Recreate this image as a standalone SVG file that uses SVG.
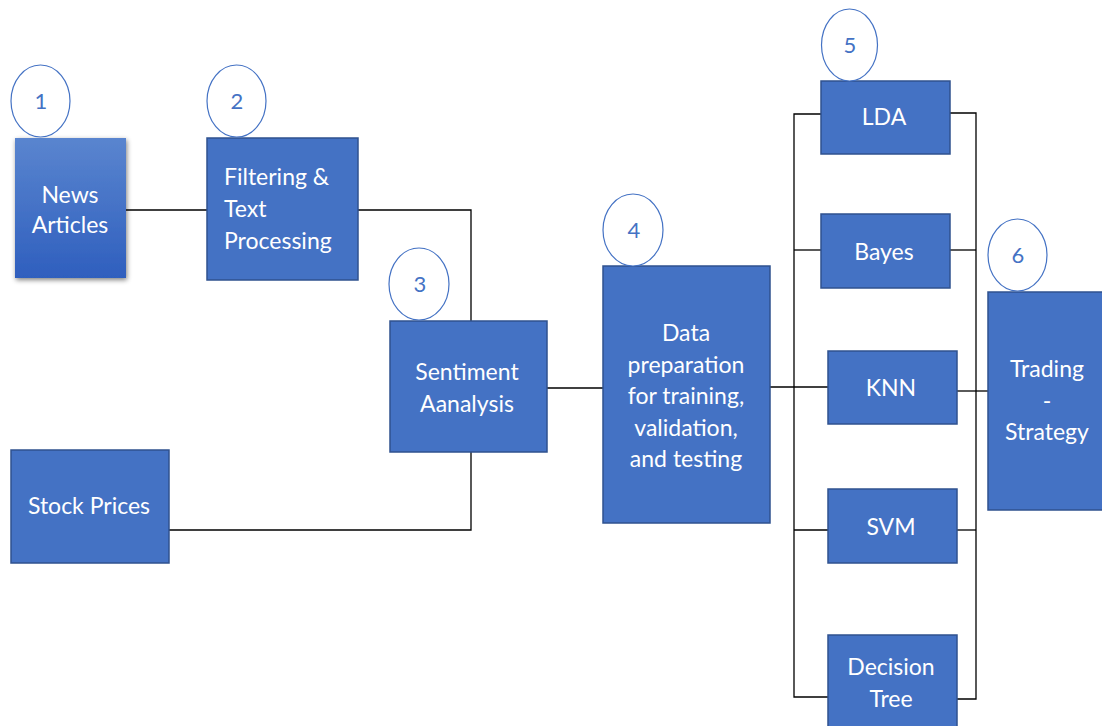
<svg xmlns="http://www.w3.org/2000/svg" width="1102" height="726" viewBox="0 0 1102 726">
<defs>
<style>
.box{fill:#4472C4;stroke:#2F528F;stroke-width:1.5}
.t{font-family:Lato,"Liberation Sans",sans-serif;font-size:23px;fill:#ffffff;text-anchor:middle}
.c{fill:#ffffff;stroke:#4472C4;stroke-width:1.2}
.n{font-family:Lato,"Liberation Sans",sans-serif;font-size:22px;fill:#4472C4;text-anchor:middle}
.ln{fill:none;stroke:#000000;stroke-width:1.3}
</style>
<linearGradient id="g1" x1="0" y1="0" x2="0" y2="1">
<stop offset="0" stop-color="#5A85CF"/>
<stop offset="1" stop-color="#2F5FBE"/>
</linearGradient>
<filter id="sh" x="-20%" y="-20%" width="140%" height="140%">
<feGaussianBlur in="SourceAlpha" stdDeviation="2.5"/>
<feOffset dx="1" dy="2"/>
<feComponentTransfer><feFuncA type="linear" slope="0.5"/></feComponentTransfer>
<feMerge><feMergeNode/><feMergeNode in="SourceGraphic"/></feMerge>
</filter>
</defs>
<rect width="1102" height="726" fill="#ffffff"/>
<g id="connectors">
<path class="ln" d="M126 210 H207"/>
<path class="ln" d="M358 210 H471 V321"/>
<path class="ln" d="M169 530 H471 V452"/>
<path class="ln" d="M547 388 H604"/>
<path class="ln" d="M770 387 H828"/>
<path class="ln" d="M821 114 H794 V697 H828"/>
<path class="ln" d="M821 250 H794"/>
<path class="ln" d="M828 530 H794"/>
<path class="ln" d="M950 113 H976 V699 H957"/>
<path class="ln" d="M950 250 H976"/>
<path class="ln" d="M957 391 H988"/>
<path class="ln" d="M957 530 H976"/>
</g>
<g id="news">
<rect x="15" y="138" width="111" height="140" fill="url(#g1)" filter="url(#sh)"/>
<text class="t" x="70" y="203">News</text>
<text class="t" x="70" y="233">Articles</text>
</g>
<g id="c1"><ellipse class="c" cx="40.5" cy="101" rx="29.5" ry="36"/><text class="n" x="41" y="109">1</text></g>
<g id="filtering">
<rect class="box" x="207" y="138" width="151" height="142"/>
<text class="t" x="224" y="185" style="text-anchor:start">Filtering &amp;</text>
<text class="t" x="224" y="217" style="text-anchor:start">Text</text>
<text class="t" x="224" y="249" style="text-anchor:start">Processing</text>
</g>
<g id="c2"><ellipse class="c" cx="236.5" cy="101" rx="29.5" ry="36"/><text class="n" x="237" y="109">2</text></g>
<g id="sentiment">
<rect class="box" x="390" y="321" width="157" height="131"/>
<text class="t" x="467" y="380">Sentiment</text>
<text class="t" x="467" y="412">Aanalysis</text>
</g>
<g id="c3"><ellipse class="c" cx="419" cy="284" rx="30" ry="36"/><text class="n" x="420" y="292">3</text></g>
<g id="stock">
<rect class="box" x="11" y="450" width="158" height="113"/>
<text class="t" x="89" y="514">Stock Prices</text>
</g>
<g id="data">
<rect class="box" x="603" y="266" width="167" height="257"/>
<text class="t" x="686" y="341">Data</text>
<text class="t" x="686" y="373">preparation</text>
<text class="t" x="686" y="404">for training,</text>
<text class="t" x="686" y="436">validation,</text>
<text class="t" x="686" y="467">and testing</text>
</g>
<g id="c4"><ellipse class="c" cx="633" cy="230" rx="30" ry="36"/><text class="n" x="634" y="238">4</text></g>
<g id="lda">
<rect class="box" x="821" y="81" width="129" height="73"/>
<text class="t" x="884" y="125">LDA</text>
</g>
<g id="c5"><ellipse class="c" cx="849.5" cy="45" rx="28" ry="36"/><text class="n" x="850" y="53">5</text></g>
<g id="bayes">
<rect class="box" x="821" y="214" width="129" height="74"/>
<text class="t" x="884" y="260">Bayes</text>
</g>
<g id="knn">
<rect class="box" x="828" y="351" width="129" height="73"/>
<text class="t" x="891" y="396">KNN</text>
</g>
<g id="svm">
<rect class="box" x="828" y="489" width="129" height="74"/>
<text class="t" x="891" y="535">SVM</text>
</g>
<g id="tree">
<rect class="box" x="828" y="635" width="129" height="100"/>
<text class="t" x="891" y="675">Decision</text>
<text class="t" x="891" y="707">Tree</text>
</g>
<g id="trading">
<rect class="box" x="988" y="292" width="120" height="218"/>
<text class="t" x="1047" y="377">Trading</text>
<text class="t" x="1047" y="409">-</text>
<text class="t" x="1047" y="440">Strategy</text>
</g>
<g id="c6"><ellipse class="c" cx="1017.5" cy="255" rx="29.5" ry="36"/><text class="n" x="1018" y="263">6</text></g>
</svg>
